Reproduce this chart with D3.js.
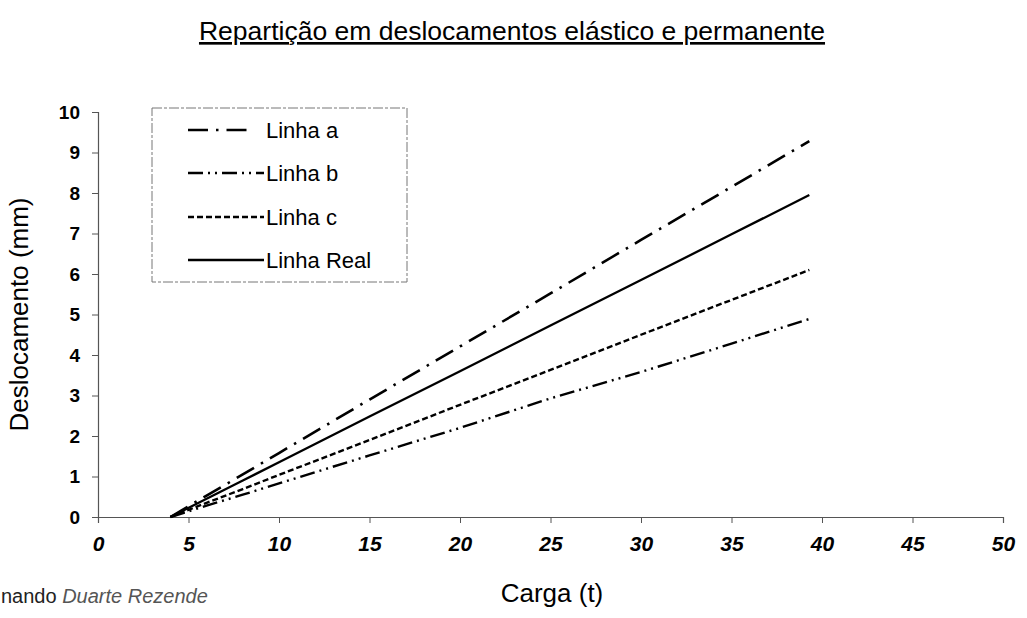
<!DOCTYPE html>
<html>
<head>
<meta charset="utf-8">
<script src="https://cdn.jsdelivr.net/npm/d3@7"></script>
<style>
  html, body { margin: 0; padding: 0; background: #fff; }
  svg { display: block; font-family: "Liberation Sans", Arial, sans-serif; }
</style>
</head>
<body>
<svg id="chart" width="1027" height="618"></svg>
<script>
// ---- data ----
const carga = [4, 6, 8, 10, 15, 20, 25, 30, 35, 39.3];
const linhaA = [0, 0.53, 1.05, 1.58, 2.90, 4.21, 5.52, 6.84, 8.15, 9.28];
const linhaB = [0, 0.28, 0.55, 0.83, 1.52, 2.20, 2.93, 3.58, 4.28, 4.89];
const linhaC = [0, 0.35, 0.69, 1.04, 1.90, 2.77, 3.63, 4.50, 5.36, 6.10];
const linhaReal = [0, 0.45, 0.90, 1.35, 2.48, 3.60, 4.73, 5.85, 6.98, 7.95];
const xTicks = [0, 5, 10, 15, 20, 25, 30, 35, 40, 45, 50];
const yTicks = [0, 1, 2, 3, 4, 5, 6, 7, 8, 9, 10];
const seriesNames = ["Linha a", "Linha b", "Linha c", "Linha Real"];
const titleText = "Repartição em deslocamentos elástico e permanente";
const xTitle = "Carga (t)";
const yTitle = "Deslocamento (mm)";

(function () {
// ---- layout ----
const svg = d3.select("#chart");
const pLeft = 98, pRight = 1003, pTop = 112, pBottom = 517;
const x = d3.scaleLinear().domain([0, 50]).range([pLeft, pRight]);
const y = d3.scaleLinear().domain([0, 10]).range([pBottom, pTop]);

const styles = [
  { dash: "20,8,2.5,8", w: 2.6 },
  { dash: "15,5,2,5,2,5", w: 2.4 },
  { dash: "6,3", w: 2.4 },
  { dash: null, w: 2.3 }
];
const seriesVals = [linhaA, linhaB, linhaC, linhaReal];

// title
svg.append("text")
  .attr("x", 512).attr("y", 40)
  .attr("text-anchor", "middle")
  .attr("font-size", 26.5)
  .attr("text-decoration", "underline")
  .attr("fill", "#000")
  .text(titleText);

// axes
const xAxis = d3.axisBottom(x).tickValues(xTicks).tickSize(6).tickFormat(d3.format("d"));
const yAxis = d3.axisLeft(y).tickValues(yTicks).tickSize(6).tickFormat(d3.format("d"));

const gx = svg.append("g").attr("transform", `translate(0,${pBottom})`).call(xAxis);
gx.select(".domain").attr("stroke", "#555").attr("stroke-width", 1.2);
gx.selectAll(".tick line").attr("stroke", "#555");
gx.selectAll(".tick text")
  .attr("font-family", "'Liberation Sans', Arial, sans-serif")
  .attr("font-size", 21).attr("font-weight", "bold").attr("font-style", "italic")
  .attr("fill", "#000").attr("dy", "0").attr("y", 34);

const gy = svg.append("g").attr("transform", `translate(${pLeft},0)`).call(yAxis);
gy.select(".domain").attr("stroke", "#555").attr("stroke-width", 1.2);
gy.selectAll(".tick line").attr("stroke", "#555");
gy.selectAll(".tick text")
  .attr("font-family", "'Liberation Sans', Arial, sans-serif")
  .attr("font-size", 19).attr("font-weight", "bold")
  .attr("fill", "#000").attr("x", -18);

// axis titles
svg.append("text")
  .attr("x", 552).attr("y", 602)
  .attr("text-anchor", "middle")
  .attr("font-size", 26)
  .text(xTitle);

svg.append("text")
  .attr("transform", `translate(28,${(pTop + pBottom) / 2}) rotate(-90)`)
  .attr("text-anchor", "middle")
  .attr("font-size", 26)
  .text(yTitle);

// lines
const line = d3.line().x((d, i) => x(carga[i])).y(d => y(d));
seriesVals.forEach((vals, k) => {
  svg.append("path")
    .datum(vals)
    .attr("d", line)
    .attr("fill", "none")
    .attr("stroke", "#000")
    .attr("stroke-width", styles[k].w)
    .attr("stroke-dasharray", styles[k].dash);
});

// legend
const lg = svg.append("g");
lg.append("rect")
  .attr("x", 152).attr("y", 108).attr("width", 255).attr("height", 174)
  .attr("fill", "#fff").attr("stroke", "#777").attr("stroke-width", 1)
  .attr("stroke-dasharray", "10,2,3,2");
const rowY = [130, 173, 217, 260];
const sampleEnd = [250, 264, 264, 264];
seriesNames.forEach((name, k) => {
  lg.append("line")
    .attr("x1", 188).attr("x2", sampleEnd[k])
    .attr("y1", rowY[k]).attr("y2", rowY[k])
    .attr("stroke", "#000").attr("stroke-width", styles[k].w)
    .attr("stroke-dasharray", styles[k].dash);
  lg.append("text")
    .attr("x", 266).attr("y", rowY[k] + 8)
    .attr("font-size", 22)
    .text(name);
});

// scanned footer text
const foot = svg.append("text")
  .attr("x", 1).attr("y", 603)
  .attr("font-size", 20)
  .attr("fill", "#222");
foot.append("tspan").text("nando ");
foot.append("tspan").attr("font-style", "italic").attr("fill", "#555").text("Duarte Rezende");
})();
</script>
</body>
</html>
